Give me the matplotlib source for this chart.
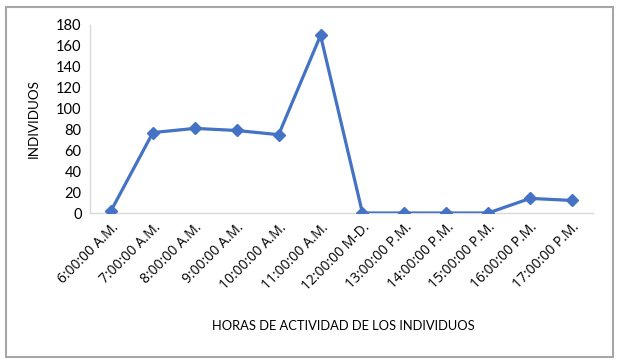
import matplotlib
matplotlib.use("Agg")
import matplotlib.pyplot as plt
from matplotlib.patches import Rectangle

categories = ["6:00:00 A.M.", "7:00:00 A.M.", "8:00:00 A.M.", "9:00:00 A.M.",
              "10:00:00 A.M.", "11:00:00 A.M.", "12:00:00 M-D.", "13:00:00 P.M.",
              "14:00:00 P.M.", "15:00:00 P.M.", "16:00:00 P.M.", "17:00:00 P.M."]
individuos = [2, 77, 81, 79, 75, 170, 0, 0, 0, 0, 14, 12]
yticks = [0, 20, 40, 60, 80, 100, 120, 140, 160, 180]

plt.rcParams['font.family'] = ['Lato', 'DejaVu Sans']

fig = plt.figure(figsize=(6.18, 3.63), dpi=100)
fig.patches.append(Rectangle((6/618, 6/363), 607/618, 350/363, transform=fig.transFigure,
                             fill=False, edgecolor='#a6a6a6', linewidth=1.5))
ax = fig.add_axes([90/618, 1-213/363, 503/618, 188/363])
x = list(range(len(categories)))
ax.plot(x, individuos, color='#4472C4', linewidth=2.3, marker='D', markersize=6.5, zorder=3)
ax.set_xlim(-0.5, len(categories)-0.5)
ax.set_ylim(0, 180)
ax.set_yticks(yticks)
ax.set_xticks(x)
ax.set_xticklabels(categories, rotation=45, ha='right', rotation_mode='anchor',
                   fontsize=10, family=['Open Sans', 'DejaVu Sans'])
ax.tick_params(axis='y', labelsize=10.5, length=0, pad=6)
ax.tick_params(axis='x', length=0, pad=5)
for s in ['top', 'right']:
    ax.spines[s].set_visible(False)
for s in ['left', 'bottom']:
    ax.spines[s].set_color('#d9d9d9')
    ax.spines[s].set_linewidth(1)
ax.set_ylabel("INDIVIDUOS", fontsize=9.6)
ax.yaxis.set_label_coords(-50/503, 0.5)
fig.text(343/618, 1-326/363, "HORAS DE ACTIVIDAD DE LOS INDIVIDUOS", ha='center', va='center', fontsize=9.3)
fig.savefig("out.png", dpi=100)
